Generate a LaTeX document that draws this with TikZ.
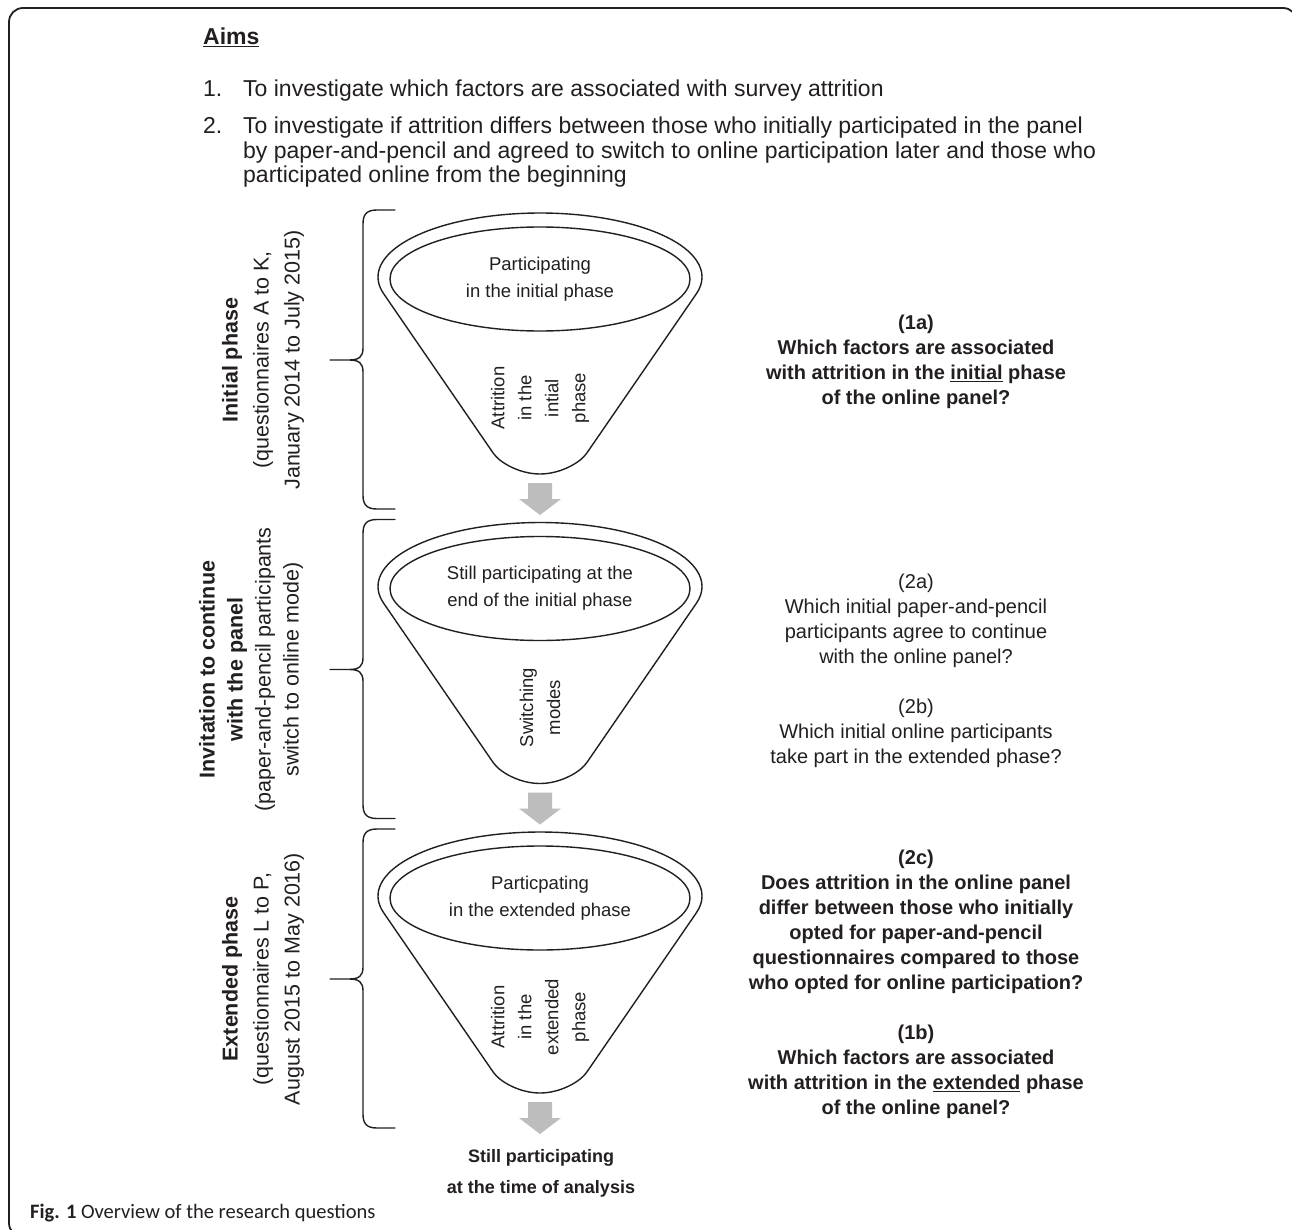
\documentclass[tikz,border=0pt]{standalone}
\usepackage{fontspec}
\setmainfont{Liberation Sans}
\newfontfamily\capfont{Carlito}
\usetikzlibrary{shapes.geometric}
\definecolor{ink}{HTML}{231F20}
\definecolor{arrowgray}{HTML}{BDBDBD}
\tikzset{
  fline/.style={draw=ink, line width=1.4pt, line join=round},
  bline/.style={draw=ink, line width=1.4pt, line join=round, line cap=round},
  ftext/.style={font=\fontsize{18.5}{27}\selectfont, align=center, inner sep=0pt, text=ink},
  ltext/.style={font=\fontsize{21.5}{31}\selectfont, align=center, inner sep=0pt, rotate=90, text=ink},
  rtext/.style={font=\fontsize{20}{25}\selectfont, align=center, inner sep=0pt, text=ink},
  btext/.style={font=\fontsize{23}{25}\selectfont, inner sep=0pt, anchor=base west, text=ink},
  garrow/.style={fill=arrowgray}
}
\newcommand{\myfunnel}[4]{%
\begin{scope}[shift={(540,#1)}]
  \draw[fline, fill=white] (-156.3,80.8) arc[start angle=164.8, end angle=375.2, x radius=162, y radius=64]
     -- (46.8,240.1) .. controls (40,250) and (20,261) .. (0,261)
     .. controls (-20,261) and (-40,250) .. (-46.8,240.1) -- cycle;
  \node[fline, ellipse, minimum width=300pt, minimum height=104pt, ftext] (#2in) at (0,66) {#3};
  \node[ftext, rotate=90] (#2att) at (0,185) {#4};
\end{scope}}
\newcommand{\mybrace}[1]{%
  \draw[bline] (395,#1) -- (377,#1) .. controls (366,#1) and (363,#1+5) .. (363,#1+14)
     -- (363,#1+138) .. controls (363,#1+147) and (359,#1+150) .. (349,#1+150) -- (330,#1+150)
     -- (349,#1+150) .. controls (359,#1+150) and (363,#1+153) .. (363,#1+162)
     -- (363,#1+285) .. controls (363,#1+294) and (366,#1+299) .. (377,#1+299) -- (395,#1+299);}
\newcommand{\myarrow}[1]{%
  \fill[garrow] (528,#1+270) -- (552,#1+270) -- (552,#1+286) -- (561,#1+286) -- (540,#1+302)
     -- (519,#1+286) -- (528,#1+286) -- cycle;}
\begin{document}
\begin{tikzpicture}[x=1pt,y=-1pt]
\useasboundingbox (0,0) rectangle (1292,1230);
\fill[white] (0,0) rectangle (1292,1230);
\begin{scope}
  \clip (0,0) rectangle (1292,1230);
  \draw[draw=ink, line width=1.8pt, rounded corners=14pt] (9,8) rectangle (1297,1237);
\end{scope}

% Aims
\node[btext, font=\fontsize{23}{25}\selectfont\bfseries] (aims) at (203,45) {\underline{Aims}};
\node[btext] (n1) at (203,97) {1.};
\node[btext] (a1) at (243,97) {To investigate which factors are associated with survey attrition};
\node[btext] (n2) at (203,134) {2.};
\node[btext] (a2a) at (243,134) {To investigate if attrition differs between those who initially participated in the panel};
\node[btext] (a2b) at (243,158.5) {by paper-and-pencil and agreed to switch to online participation later and those who};
\node[btext] (a2c) at (243,183) {participated online from the beginning};

% braces
\mybrace{210}
\mybrace{519.5}
\mybrace{829}

% left labels
\node[ltext] (lab1) at (263,360) {\textbf{Initial phase}\\(questionnaires A to K,\\January 2014 to July 2015)};
\node[ltext, font=\fontsize{21.5}{28}\selectfont] (lab2) at (251,669.5) {\textbf{Invitation to continue}\\\textbf{with the panel}\\(paper-and-pencil participants\\switch to online mode)};
\node[ltext] (lab3) at (263,979) {\textbf{Extended phase}\\(questionnaires L to P,\\August 2015 to May 2016)};

% funnels
\myfunnel{213}{fa}{Participating\\in the initial phase}{Attrition\\in the\\intial\\phase}
\myfunnel{522.5}{fb}{Still participating at the\\end of the initial phase}{Switching\\modes}
\myfunnel{832}{fc}{Particpating\\in the extended phase}{Attrition\\in the\\extended\\phase}

% arrows
\myarrow{213}
\myarrow{522.5}
\myarrow{832}

\node[rtext, font=\fontsize{18}{31}\selectfont\bfseries] (still) at (541,1173) {Still participating\\at the time of analysis};

% right column
\node[rtext, font=\fontsize{20}{25}\selectfont\bfseries] (q1a) at (916,362) {(1a)\\Which factors are associated\\with attrition in the \underline{initial} phase\\of the online panel?};
\node[rtext] (q2a) at (916,671) {(2a)\\Which initial paper-and-pencil\\participants agree to continue\\with the online panel?\\[25pt](2b)\\Which initial online participants\\take part in the extended phase?};
\node[rtext, font=\fontsize{20}{25}\selectfont\bfseries] (q2c) at (916,984) {(2c)\\Does attrition in the online panel\\differ between those who initially\\opted for paper-and-pencil\\questionnaires compared to those\\who opted for online participation?\\[25pt](1b)\\Which factors are associated\\with attrition in the \underline{extended} phase\\of the online panel?};

% caption
\node[anchor=base west, inner sep=0pt, text=ink, font=\capfont\fontsize{20.5}{22}\selectfont] (cap) at (30,1218) {\textbf{Fig. 1} Overview of the research questions};
\end{tikzpicture}
\end{document}
